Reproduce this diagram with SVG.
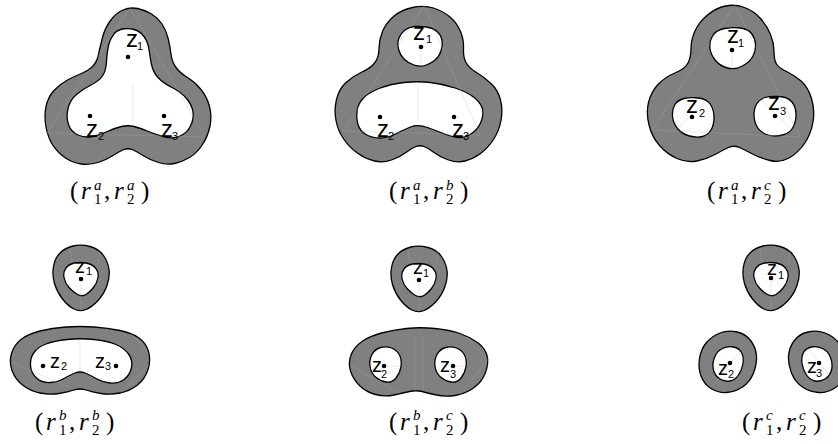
<svg xmlns="http://www.w3.org/2000/svg" xmlns:xlink="http://www.w3.org/1999/xlink" width="838" height="444" viewBox="0 0 838 444">
<style>
.ring{fill:#808080;fill-rule:evenodd;stroke:#000;stroke-width:1.3;stroke-linejoin:round}
.mesh{fill:none;stroke:#b0b0b0;stroke-opacity:0.35;stroke-width:0.8}
.dot{fill:#000}
.z{font-family:"Liberation Sans",Arial,sans-serif;font-size:24px;fill:#000}
.zb{font-family:"Liberation Sans",Arial,sans-serif;font-size:20px;fill:#000}
.zs{font-family:"Liberation Sans",Arial,sans-serif;font-size:11px;fill:#000}
.lab{font-family:"Liberation Serif","Times New Roman",serif;font-size:25px;fill:#000}
.scr{font-family:"Liberation Serif","Times New Roman",serif;font-size:15px;fill:#000}
.it{font-style:italic}
</style>
<defs>
<path id="smallring" class="ring" d="M73,246 Q81,244 90,246.5 Q99,249 103.5,255.5 Q108,262 109,269.5 Q110,277 107,285.5 Q104,294 98,300.5 Q92,307 86,309.5 Q80,312 74,309 Q68,306 62.5,299 Q57,292 54.5,283.5 Q52,275 53.5,266.5 Q55,258 60,253 Q65,248 73,246 Z M74.5,263 Q80,262 86,263 Q92,264 95.5,268 Q99,272 98,277.5 Q97,283 93.5,287.5 Q90,292 86,294.5 Q82,297 77.5,294.5 Q73,292 69,287.5 Q65,283 64,277.5 Q63,272 66,268 Q69,264 74.5,263 Z"/>
<path id="eggring" class="ring" d="M720,333 Q728,330 737,332 Q746,334 751,341 Q756,348 756.5,356 Q757,364 753.5,373 Q750,382 742.5,387 Q735,392 726.5,392.5 Q718,393 711,388.5 Q704,384 701,376 Q698,368 699.5,358.5 Q701,349 706.5,342.5 Q712,336 720,333 Z M722.5,348.5 Q728,346 733.5,347 Q739,348 741.5,352.5 Q744,357 743,363.5 Q742,370 738.5,375 Q735,380 730,381 Q725,382 720,379 Q715,376 713.5,370 Q712,364 714.5,357.5 Q717,351 722.5,348.5 Z"/>
</defs>

<g id="panel-a-a">
<path class="ring" d="M123,10 Q130,7 137.5,8.5 Q145,10 151.5,14 Q158,18 162,24 Q166,30 168,38 Q170,46 171,54 Q172,62 176,67.5 Q180,73 187.5,77.5 Q195,82 201,89.5 Q207,97 209.5,106.5 Q212,116 210,126 Q208,136 202.5,144.5 Q197,153 189.5,157.5 Q182,162 174.5,163.5 Q167,165 158.5,162.5 Q150,160 143,155.5 Q136,151 132,149.5 Q128,148 124,149.5 Q120,151 113,155.5 Q106,160 98,162.5 Q90,165 81.5,164 Q73,163 65.5,158 Q58,153 53,145.5 Q48,138 46,127 Q44,116 46,106.5 Q48,97 54,90.5 Q60,84 67.5,80 Q75,76 81.5,73.5 Q88,71 92.5,66.5 Q97,62 98.5,54.5 Q100,47 102.5,37.5 Q105,28 110.5,20.5 Q116,13 123,10 Z M122.5,29 Q128,28 134,29.5 Q140,31 144,36.5 Q148,42 149,49.5 Q150,57 151.5,64.5 Q153,72 158,77.5 Q163,83 172,87.5 Q181,92 186.5,98.5 Q192,105 193,112 Q194,119 190.5,126 Q187,133 180,136 Q173,139 165,137 Q157,135 148.5,131.5 Q140,128 134,126.5 Q128,125 121.5,126.5 Q115,128 107.5,131.5 Q100,135 92.5,136.5 Q85,138 78,135 Q71,132 68.5,124.5 Q66,117 68,108.5 Q70,100 76.5,94.5 Q83,89 91,85 Q99,81 102.5,76 Q106,71 106.5,61.5 Q107,52 108.5,45.5 Q110,39 113.5,34.5 Q117,30 122.5,29 Z"/>
<path class="mesh" d="M130,8 L47,133 L205,137 Z M133,84 V126"/>
<circle class="dot" cx="128" cy="57" r="2.3"/>
<circle class="dot" cx="90" cy="116" r="2.3"/>
<circle class="dot" cx="164" cy="116" r="2.3"/>
<text class="z" x="126" y="47">z</text><text class="zs" x="137" y="50">1</text>
<text class="z" x="86" y="137">z</text><text class="zs" x="98" y="140">2</text>
<text class="z" x="161" y="137">z</text><text class="zs" x="172" y="140">3</text>
<text class="lab" x="70" y="199">(</text><text class="lab it" x="81" y="199">r</text><text class="scr it" x="94" y="190">a</text><text class="scr" x="94" y="204">1</text><text class="lab" x="104" y="199">,</text><text class="lab it" x="114" y="199">r</text><text class="scr it" x="127" y="190">a</text><text class="scr" x="127" y="204">2</text><text class="lab" x="141" y="199">)</text>
</g>

<g id="panel-a-b">
<path class="ring" d="M412.5,7.5 Q424,5 433.5,8 Q443,11 450,17 Q457,23 460.5,31.5 Q464,40 463.5,48.5 Q463,57 466,62.5 Q469,68 476.5,72.5 Q484,77 491,83.5 Q498,90 500.5,100 Q503,110 501,120.5 Q499,131 493.5,139.5 Q488,148 480.5,153.5 Q473,159 465,161 Q457,163 448.5,160 Q440,157 434,152.5 Q428,148 424,146.5 Q420,145 416,146.5 Q412,148 406,152.5 Q400,157 391.5,160 Q383,163 374.5,161 Q366,159 358,153.5 Q350,148 344,139.5 Q338,131 336,120.5 Q334,110 336.5,99.5 Q339,89 346,82.5 Q353,76 362,72 Q371,68 375,62.5 Q379,57 379,48.5 Q379,40 382.5,31.5 Q386,23 393.5,16.5 Q401,10 412.5,7.5 Z M414.5,26.5 Q420,26 426.5,27 Q433,28 437,31.5 Q441,35 442,40 Q443,45 441,51 Q439,57 434.5,60.5 Q430,64 425,65.5 Q420,67 414,65 Q408,63 404,59 Q400,55 398.5,49 Q397,43 399,38 Q401,33 405,30 Q409,27 414.5,26.5 Z M404,82.5 Q418,81 430.5,82.5 Q443,84 455,88 Q467,92 473.5,97 Q480,102 482,107.5 Q484,113 481.5,120.5 Q479,128 473,132.5 Q467,137 461,137.5 Q455,138 446,134.5 Q437,131 427.5,127.5 Q418,124 410.5,127 Q403,130 395.5,134 Q388,138 380,138 Q372,138 366,134.5 Q360,131 358,124.5 Q356,118 357,111 Q358,104 363,98.5 Q368,93 379,88.5 Q390,84 404,82.5 Z"/>
<path class="mesh" d="M424,6 L343,131 L480,135 Z M421,50 V66 M418,84 V123"/>
<circle class="dot" cx="421" cy="47" r="2.3"/>
<circle class="dot" cx="380" cy="117" r="2.3"/>
<circle class="dot" cx="454" cy="117" r="2.3"/>
<text class="z" x="413" y="40">z</text><text class="zs" x="426" y="43">1</text>
<text class="z" x="377" y="137">z</text><text class="zs" x="388" y="140">2</text>
<text class="z" x="452" y="137">z</text><text class="zs" x="463" y="140">3</text>
<text class="lab" x="389" y="199">(</text><text class="lab it" x="400" y="199">r</text><text class="scr it" x="413" y="190">a</text><text class="scr" x="413" y="204">1</text><text class="lab" x="423" y="199">,</text><text class="lab it" x="433" y="199">r</text><text class="scr it" x="446" y="190">b</text><text class="scr" x="446" y="204">2</text><text class="lab" x="460" y="199">)</text>
</g>

<g id="panel-a-c">
<path class="ring" d="M725.5,6 Q735,4 744.5,7.5 Q754,11 760.5,18.5 Q767,26 770.5,34.5 Q774,43 774,51.5 Q774,60 776.5,64 Q779,68 786.5,71.5 Q794,75 801,81 Q808,87 811.5,98.5 Q815,110 813,122 Q811,134 804.5,143.5 Q798,153 789,158 Q780,163 770,160.5 Q760,158 752.5,154 Q745,150 739.5,147.5 Q734,145 728.5,147.5 Q723,150 715,154.5 Q707,159 697,161 Q687,163 677,158.5 Q667,154 659.5,145.5 Q652,137 649,125 Q646,113 648.5,102.5 Q651,92 658,84.5 Q665,77 675,73 Q685,69 688,63 Q691,57 691,48.5 Q691,40 695,31 Q699,22 707.5,15 Q716,8 725.5,6 Z M724.5,28.5 Q733,27 740.5,28 Q748,29 751.5,33.5 Q755,38 755.5,44 Q756,50 753,56 Q750,62 742.5,66 Q735,70 727.5,68 Q720,66 715.5,60.5 Q711,55 710,48.5 Q709,42 712.5,36 Q716,30 724.5,28.5 Z M684,98.5 Q690,97 698.5,98 Q707,99 710.5,104.5 Q714,110 714,117.5 Q714,125 711,130 Q708,135 702.5,136.5 Q697,138 689.5,136 Q682,134 677.5,128.5 Q673,123 672.5,116 Q672,109 675,104.5 Q678,100 684,98.5 Z M765,97.5 Q770,96 779,96.5 Q788,97 792,102 Q796,107 796,114.5 Q796,122 793,127.5 Q790,133 782.5,135 Q775,137 768,135 Q761,133 757.5,127.5 Q754,122 754,115 Q754,108 757,103.5 Q760,99 765,97.5 Z"/>
<path class="mesh" d="M735,5 L652,130 L800,137 Z M732,50 V70 M673,132 L708,100 M758,98 L793,130"/>
<circle class="dot" cx="732" cy="50" r="2.3"/>
<circle class="dot" cx="692" cy="117" r="2.3"/>
<circle class="dot" cx="775" cy="116" r="2.3"/>
<text class="z" x="727" y="43">z</text><text class="zs" x="738" y="47">1</text>
<text class="z" x="686" y="113">z</text><text class="zs" x="699" y="117">2</text>
<text class="z" x="768" y="110">z</text><text class="zs" x="780" y="115">3</text>
<text class="lab" x="707" y="199">(</text><text class="lab it" x="718" y="199">r</text><text class="scr it" x="731" y="190">a</text><text class="scr" x="731" y="204">1</text><text class="lab" x="741" y="199">,</text><text class="lab it" x="751" y="199">r</text><text class="scr it" x="764" y="190">c</text><text class="scr" x="764" y="204">2</text><text class="lab" x="778" y="199">)</text>
</g>

<g id="panel-b-b">
<use xlink:href="#smallring" href="#smallring"/>
<path class="ring" d="M66,327 Q80,326 94,327 Q108,328 120,330.5 Q132,333 139,338 Q146,343 148.5,351.5 Q151,360 148,369.5 Q145,379 137.5,385 Q130,391 120,393 Q110,395 101,393.5 Q92,392 86,390 Q80,388 74,390 Q68,392 59,393.5 Q50,395 40,393 Q30,391 22.5,385 Q15,379 12,370.5 Q9,362 11.5,353.5 Q14,345 21,339.5 Q28,334 40,331 Q52,328 66,327 Z M67,339.5 Q80,338 94,339.5 Q108,341 116,344.5 Q124,348 128.5,354 Q133,360 131.5,367.5 Q130,375 124,379.5 Q118,384 110,383 Q102,382 96,378.5 Q90,375 85,373 Q80,371 75,373 Q70,375 64,378.5 Q58,382 50,382.5 Q42,383 36.5,378 Q31,373 30.5,365.5 Q30,358 34,352.5 Q38,347 46,344 Q54,341 67,339.5 Z"/>
<path class="mesh" d="M81,279 V311 M70,248 L72,262 M100,251 L98,264 M80,339 V371 M131,333 L149,354 M149,365 L120,394 M12,362 L70,388"/>
<circle class="dot" cx="81" cy="279" r="2.3"/>
<circle class="dot" cx="43" cy="366" r="2.3"/>
<circle class="dot" cx="116" cy="366" r="2.3"/>
<text class="zb" x="75" y="273">z</text><text class="zs" x="86" y="275">1</text>
<text class="zb" x="50" y="368">z</text><text class="zs" x="61" y="370">2</text>
<text class="zb" x="95" y="368">z</text><text class="zs" x="105" y="370">3</text>
<text class="lab" x="35" y="430">(</text><text class="lab it" x="46" y="430">r</text><text class="scr it" x="59" y="420">b</text><text class="scr" x="59" y="435">1</text><text class="lab" x="69" y="430">,</text><text class="lab it" x="79" y="430">r</text><text class="scr it" x="92" y="420">b</text><text class="scr" x="92" y="435">2</text><text class="lab" x="106" y="430">)</text>
</g>

<g id="panel-b-c">
<use xlink:href="#smallring" href="#smallring" transform="translate(338,1)"/>
<path class="ring" d="M406.5,328.5 Q420,327 435,328.5 Q450,330 460,333.5 Q470,337 477.5,342.5 Q485,348 487,355.5 Q489,363 485.5,372.5 Q482,382 473.5,388 Q465,394 455,395.5 Q445,397 436.5,395 Q428,393 422,391.5 Q416,390 409.5,391.5 Q403,393 394,395 Q385,397 375.5,394.5 Q366,392 359.5,385.5 Q353,379 350.5,371 Q348,363 351,355 Q354,347 362,341.5 Q370,336 381.5,333 Q393,330 406.5,328.5 Z M380.5,347.5 Q386,346 391.5,348 Q397,350 399.5,355 Q402,360 401,366.5 Q400,373 396,378 Q392,383 386,382 Q380,381 375.5,377 Q371,373 370,366.5 Q369,360 372,354.5 Q375,349 380.5,347.5 Z M445.5,347.5 Q451,346 456.5,348 Q462,350 464.5,355 Q467,360 466,366.5 Q465,373 461,378 Q457,383 451,382 Q445,381 440.5,377 Q436,373 435,366.5 Q434,360 437,354.5 Q440,349 445.5,347.5 Z"/>
<path class="mesh" d="M419,280 V312 M408,249 L410,263 M438,252 L436,265 M384,366 H401 M453,366 H466 M415,336 V391 M423,336 V391 M467,337 L488,360 L460,395 M350,365 L400,394"/>
<circle class="dot" cx="419" cy="280" r="2.3"/>
<circle class="dot" cx="384" cy="366" r="2.3"/>
<circle class="dot" cx="453" cy="366" r="2.3"/>
<text class="zb" x="413" y="274">z</text><text class="zs" x="423" y="277">1</text>
<text class="zb" x="372" y="372">z</text><text class="zs" x="381" y="378">2</text>
<text class="zb" x="440" y="372">z</text><text class="zs" x="450" y="378">3</text>
<text class="lab" x="389" y="430">(</text><text class="lab it" x="400" y="430">r</text><text class="scr it" x="413" y="420">b</text><text class="scr" x="413" y="435">1</text><text class="lab" x="423" y="430">,</text><text class="lab it" x="433" y="430">r</text><text class="scr it" x="446" y="420">c</text><text class="scr" x="446" y="435">2</text><text class="lab" x="460" y="430">)</text>
</g>

<g id="panel-c-c">
<use xlink:href="#smallring" href="#smallring" transform="translate(690,0)"/>
<use xlink:href="#eggring" href="#eggring"/>
<use xlink:href="#eggring" href="#eggring" transform="translate(1545,0) scale(-1,1)"/>
<path class="mesh" d="M771,278 V311 M760,248 L762,262 M790,251 L788,264 M712,387 L742,348 M807,348 L838,385"/>
<circle class="dot" cx="771" cy="278" r="2.3"/>
<circle class="dot" cx="730" cy="363" r="2.3"/>
<circle class="dot" cx="819" cy="363" r="2.3"/>
<text class="zb" x="767" y="275">z</text><text class="zs" x="778" y="279">1</text>
<text class="zb" x="718" y="375">z</text><text class="zs" x="728" y="378">2</text>
<text class="zb" x="807" y="373">z</text><text class="zs" x="816" y="377">3</text>
<text class="lab" x="742" y="430">(</text><text class="lab it" x="753" y="430">r</text><text class="scr it" x="766" y="420">c</text><text class="scr" x="766" y="435">1</text><text class="lab" x="776" y="430">,</text><text class="lab it" x="786" y="430">r</text><text class="scr it" x="799" y="420">c</text><text class="scr" x="799" y="435">2</text><text class="lab" x="813" y="430">)</text>
</g>
</svg>
